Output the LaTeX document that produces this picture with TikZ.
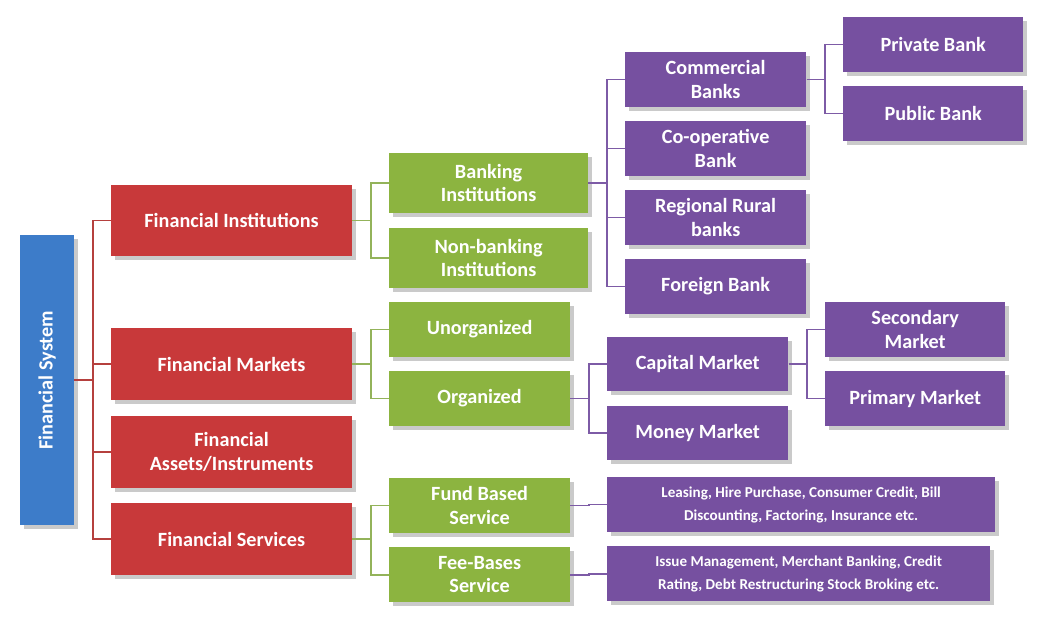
\documentclass[tikz,border=0pt]{standalone}
\usepackage{fontspec}
\setmainfont{Carlito}
\usetikzlibrary{shadows}
\definecolor{cblue}{HTML}{3D7CC9}
\definecolor{cred}{HTML}{C8393A}
\definecolor{cgreen}{HTML}{8CB440}
\definecolor{cpurple}{HTML}{7650A0}
\definecolor{lred}{HTML}{B5403E}
\definecolor{lgreen}{HTML}{93B35A}
\definecolor{lpurple}{HTML}{7D5BA6}
\tikzset{
 box/.style={draw=none, fill=#1, text=white, font=\bfseries\fontsize{11.5}{13.5}\selectfont, align=center, inner sep=1pt,
   drop shadow={shadow xshift=2pt, shadow yshift=-2pt, fill=black!35, opacity=.6}},
 smallbox/.style={box=#1, font=\bfseries\fontsize{8.6}{13}\selectfont},
 conn/.style={draw=#1, line width=1pt},
}
\newcommand\bx[7]{\node[#6, minimum width={(#4-#2)*0.02cm}, minimum height={(#5-#3)*0.02cm}] (#1) at ({(#2+#4)/2*0.02},{-(#3+#5)/2*0.02}) {#7};}
\begin{document}
\begin{tikzpicture}
\useasboundingbox (0,0) rectangle (20.84,-12.5);
% buses
\coordinate (b1) at (93*0.02,0);
\coordinate (b2) at (371*0.02,0);
\coordinate (b3) at (607*0.02,0);
\coordinate (b4) at (825*0.02,0);
\coordinate (b5) at (589*0.02,0);
\coordinate (b6) at (807*0.02,0);
% connectors first
\begin{scope}[on background layer/.style={}]
\end{scope}
\bx{fs}{20}{235}{74}{525}{box=cblue}{}
\node[rotate=90, text=white, font=\bfseries\fontsize{11.5}{13.5}\selectfont] (fst) at (fs) {Financial System};
\bx{fi}{111}{185}{352}{256}{box=cred}{Financial Institutions}
\bx{fm}{111}{328}{352}{400}{box=cred}{Financial Markets}
\bx{fa}{111}{416}{352}{488}{box=cred}{Financial\\Assets/Instruments}
\bx{fsv}{111}{503}{352}{575}{box=cred}{Financial Services}
\bx{bi}{389}{153}{588}{213}{box=cgreen}{Banking\\Institutions}
\bx{nb}{389}{228}{588}{288}{box=cgreen}{Non-banking\\Institutions}
\bx{un}{389}{302}{570}{357}{box=cgreen}{Unorganized}
\bx{org}{389}{371}{570}{426}{box=cgreen}{Organized}
\bx{fb}{389}{478}{570}{533}{box=cgreen}{Fund Based\\Service}
\bx{fee}{389}{547}{570}{602}{box=cgreen}{Fee-Bases\\Service}
\bx{cb}{625}{52}{806}{107}{box=cpurple}{Commercial\\Banks}
\bx{co}{625}{121}{806}{176}{box=cpurple}{Co-operative\\Bank}
\bx{rr}{625}{190}{806}{245}{box=cpurple}{Regional Rural\\banks}
\bx{fo}{625}{259}{806}{314}{box=cpurple}{Foreign Bank}
\bx{pb}{843}{17}{1023}{72}{box=cpurple}{Private Bank}
\bx{pub}{843}{86}{1023}{141}{box=cpurple}{Public Bank}
\bx{cm}{607}{337}{788}{391}{box=cpurple}{Capital Market}
\bx{mm}{607}{406}{788}{460}{box=cpurple}{Money Market}
\bx{sm}{825}{302}{1005}{357}{box=cpurple}{Secondary\\Market}
\bx{pm}{825}{371}{1005}{426}{box=cpurple}{Primary Market}
\bx{le}{607}{477}{995}{532}{smallbox=cpurple}{Leasing, Hire Purchase, Consumer Credit, Bill\\Discounting, Factoring, Insurance etc.}
\bx{is}{607}{546}{990}{601}{smallbox=cpurple}{Issue Management, Merchant Banking, Credit\\Rating, Debt Restructuring Stock Broking etc.}
% connectors
\foreach \c in {fi,fm,fa,fsv}{\draw[conn=lred] (fs.east) -- (fs.east -| b1) |- (\c.west);}
\foreach \c in {bi,nb}{\draw[conn=lgreen] (fi.east) -- (fi.east -| b2) |- (\c.west);}
\foreach \c in {un,org}{\draw[conn=lgreen] (fm.east) -- (fm.east -| b2) |- (\c.west);}
\foreach \c in {fb,fee}{\draw[conn=lgreen] (fsv.east) -- (fsv.east -| b2) |- (\c.west);}
\foreach \c in {cb,co,rr,fo}{\draw[conn=lpurple] (bi.east) -- (bi.east -| b3) |- (\c.west);}
\foreach \c in {pb,pub}{\draw[conn=lpurple] (cb.east) -- (cb.east -| b4) |- (\c.west);}
\foreach \c in {cm,mm}{\draw[conn=lpurple] (org.east) -- (org.east -| b5) |- (\c.west);}
\foreach \c in {sm,pm}{\draw[conn=lpurple] (cm.east) -- (cm.east -| b6) |- (\c.west);}
\draw[conn=lpurple] (fb.east) -- (fb.east -| b5) |- (le.west);
\draw[conn=lpurple] (fee.east) -- (fee.east -| b5) |- (is.west);
\end{tikzpicture}
\end{document}
